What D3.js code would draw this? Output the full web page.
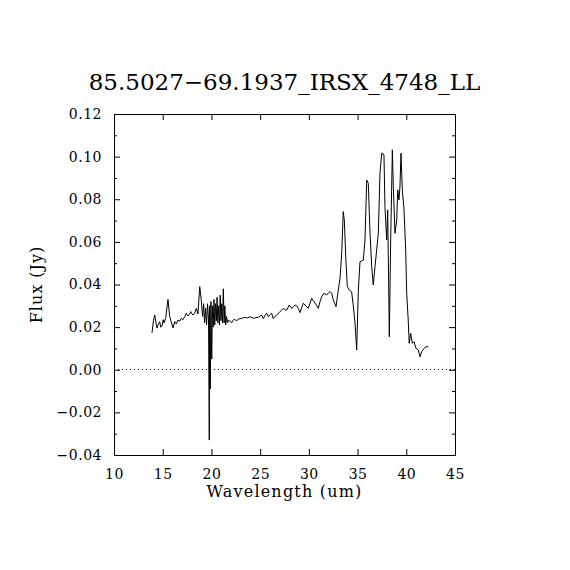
<!DOCTYPE html>
<html lang="en">
<head>
    <meta charset="UTF-8">
    <title>85.5027-69.1937_IRSX_4748_LL</title>
    <script src="https://d3js.org/d3.v7.min.js"></script>
    <style>
        body { margin: 0; background: #fff; }
        svg { display: block; background: #fff; }
        text { font-family: "DejaVu Serif", serif; fill: #000; }
        .tick-label { font-size: 14px; }
    </style>
</head>
<body>
    <svg width="570" height="570"></svg>

    <script>
        // Spectrum (wavelength in um, flux in Jy)
        var wavelength = [
            13.90, 14.05, 14.18, 14.31, 14.42, 14.52, 14.69, 14.80, 14.93, 15.05,
            15.13, 15.30, 15.54, 15.72, 15.88, 16.06, 16.23, 16.40, 16.57, 16.74,
            16.91, 17.08, 17.26, 17.42, 17.60, 17.75, 17.87, 18.00, 18.11, 18.28,
            18.45, 18.62, 18.80, 18.96,
            19.00, 19.10, 19.20, 19.30, 19.40, 19.50, 19.60, 19.70, 19.78, 19.82,
            19.88, 19.95, 20.03, 20.10, 20.18, 20.26, 20.34, 20.42, 20.50, 20.58,
            20.66, 20.74, 20.82, 20.90, 20.98, 21.06, 21.14, 21.22, 21.30, 21.38,
            21.46, 21.55, 21.65,
            21.73, 21.90, 22.08, 22.22, 22.35, 22.59, 22.80, 23.10, 23.45, 23.70,
            23.96, 24.30, 24.55, 24.81, 25.16, 25.32, 25.50, 25.67, 25.84, 26.00,
            26.18, 26.35, 26.50, 26.70, 26.95, 27.21, 27.38, 27.55, 27.72, 27.99,
            28.24, 28.40, 28.58, 28.75, 28.92, 29.09, 29.25, 29.43, 29.70, 29.94,
            30.10, 30.29, 30.53, 30.75, 30.97, 31.15, 31.32, 31.55, 31.83, 32.00,
            32.17, 32.34, 32.51, 32.79, 33.02, 33.20, 33.37, 33.53, 33.64, 33.80,
            33.95, 34.15, 34.39, 34.57, 34.74, 34.91, 35.08, 35.25, 35.42, 35.59,
            35.76, 35.94, 36.10, 36.28, 36.45, 36.61, 36.79, 36.96, 37.13, 37.30,
            37.48, 37.71, 37.81, 37.99, 38.09, 38.26, 38.40, 38.57, 38.67, 38.84,
            39.02, 39.12, 39.25, 39.35, 39.46, 39.59, 39.76, 39.94, 40.04, 40.20,
            40.30, 40.45, 40.62, 40.79, 40.99, 41.23, 41.41, 41.58, 41.82, 42.02,
            42.26
        ];
        var flux = [
            0.0173, 0.0230, 0.0257, 0.0220, 0.0196, 0.0210, 0.0225, 0.0200, 0.0205, 0.0235,
            0.0220, 0.0240, 0.0330, 0.0249, 0.0225, 0.0196, 0.0226, 0.0215, 0.0233, 0.0228,
            0.0241, 0.0235, 0.0249, 0.0265, 0.0252, 0.0260, 0.0273, 0.0262, 0.0257, 0.0265,
            0.0288, 0.0262, 0.0390, 0.0327,
            0.0300, 0.0250, 0.0310, 0.0220, 0.0290, 0.0210, 0.0310, 0.0240, -0.0330, 0.0300,
            -0.0090, 0.0320, 0.0050, 0.0300, 0.0200, 0.0330, 0.0210, 0.0310, 0.0230, 0.0340,
            0.0220, 0.0300, 0.0210, 0.0350, 0.0230, 0.0310, 0.0220, 0.0380, 0.0220, 0.0300,
            0.0210, 0.0250, 0.0220,
            0.0233, 0.0228, 0.0221, 0.0232, 0.0237, 0.0230, 0.0238, 0.0241, 0.0246, 0.0243,
            0.0249, 0.0241, 0.0245, 0.0246, 0.0257, 0.0240, 0.0255, 0.0265, 0.0249, 0.0258,
            0.0265, 0.0240, 0.0250, 0.0257, 0.0268, 0.0280, 0.0288, 0.0282, 0.0280, 0.0304,
            0.0288, 0.0295, 0.0304, 0.0300, 0.0288, 0.0268, 0.0290, 0.0312, 0.0299, 0.0288,
            0.0310, 0.0335, 0.0319, 0.0305, 0.0288, 0.0320, 0.0343, 0.0359, 0.0351, 0.0360,
            0.0367, 0.0359, 0.0327, 0.0296, 0.0374, 0.0429, 0.0546, 0.0742, 0.0703, 0.0515,
            0.0390, 0.0374, 0.0366, 0.0296, 0.0218, 0.0093, 0.0374, 0.0507, 0.0510, 0.0515,
            0.0609, 0.0890, 0.0875, 0.0640, 0.0484, 0.0398, 0.0484, 0.0562, 0.0640, 0.0922,
            0.1016, 0.1008, 0.0765, 0.0609, 0.0750, 0.0155, 0.0609, 0.1032, 0.0859, 0.0640,
            0.0703, 0.0844, 0.0797, 0.0859, 0.1016, 0.0844, 0.0758, 0.0562, 0.0359, 0.0233,
            0.0124, 0.0171, 0.0124, 0.0132, 0.0101, 0.0093, 0.0061, 0.0085, 0.0100, 0.0108,
            0.0108
        ];

        var xTicks = [10, 15, 20, 25, 30, 35, 40, 45];
        var yTicks = [-0.04, -0.02, 0.00, 0.02, 0.04, 0.06, 0.08, 0.10, 0.12];
        var yMinorTicks = [-0.03, -0.01, 0.01, 0.03, 0.05, 0.07, 0.09, 0.11];

        var chartTitle = "85.5027\u221269.1937_IRSX_4748_LL";
        var xTitle = "Wavelength (um)";
        var yTitle = "Flux (Jy)";

        var svg = d3.select("svg"),
            margin = {top: 114, right: 115, bottom: 115, left: 114},
            width = +svg.attr("width") - margin.left - margin.right,
            height = +svg.attr("height") - margin.top - margin.bottom,
            g = svg.append("g").attr("transform", "translate(" + margin.left + "," + margin.top + ")");

        var x = d3.scaleLinear().domain([10, 45]).range([0, width]);
        var y = d3.scaleLinear().domain([-0.04, 0.12]).range([height, 0]);

        var fmt = d3.format(".2f");

        // bottom axis with labels, ticks drawn inward
        g.append("g")
            .attr("transform", "translate(0," + height + ")")
            .call(d3.axisBottom(x).tickValues(xTicks).tickSize(-6).tickPadding(14).tickFormat(d3.format("d")))
            .call(function(a) { a.select(".domain").remove(); });

        // top axis, ticks only
        g.append("g")
            .call(d3.axisTop(x).tickValues(xTicks).tickSize(-6).tickFormat(""))
            .call(function(a) { a.select(".domain").remove(); });

        // left axis
        g.append("g")
            .call(d3.axisLeft(y).tickValues(yTicks).tickSize(-6).tickPadding(12).tickFormat(fmt))
            .call(function(a) { a.select(".domain").remove(); });
        g.append("g")
            .call(d3.axisLeft(y).tickValues(yMinorTicks).tickSize(-3).tickFormat(""))
            .call(function(a) { a.select(".domain").remove(); });

        // right axis
        g.append("g")
            .attr("transform", "translate(" + width + ",0)")
            .call(d3.axisRight(y).tickValues(yTicks).tickSize(-6).tickFormat(""))
            .call(function(a) { a.select(".domain").remove(); });
        g.append("g")
            .attr("transform", "translate(" + width + ",0)")
            .call(d3.axisRight(y).tickValues(yMinorTicks).tickSize(-3).tickFormat(""))
            .call(function(a) { a.select(".domain").remove(); });

        g.selectAll(".tick line").attr("stroke", "#000");
        g.selectAll(".tick text")
            .attr("class", "tick-label")
            .attr("font-size", null)
            .attr("font-family", null)
            .attr("letter-spacing", "0.5px");

        // frame
        g.append("rect")
            .attr("width", width)
            .attr("height", height)
            .attr("fill", "none")
            .attr("stroke", "#000")
            .attr("stroke-width", 1)
            .attr("shape-rendering", "crispEdges");

        // zero line
        g.append("line")
            .attr("x1", 0).attr("x2", width)
            .attr("y1", y(0)).attr("y2", y(0))
            .attr("stroke", "#000")
            .attr("stroke-dasharray", "1,3")
            .attr("shape-rendering", "crispEdges");

        // spectrum
        var line = d3.line()
            .x(function(d, i) { return x(wavelength[i]); })
            .y(function(d) { return y(d); });

        g.append("path")
            .datum(flux)
            .attr("fill", "none")
            .attr("stroke", "#000")
            .attr("stroke-width", 1)
            .attr("d", line);

        // titles
        svg.append("text")
            .attr("x", margin.left + width / 2)
            .attr("y", 90)
            .attr("text-anchor", "middle")
            .attr("font-size", 23)
            .text(chartTitle);

        svg.append("text")
            .attr("x", margin.left + width / 2)
            .attr("y", 497)
            .attr("text-anchor", "middle")
            .attr("font-size", 16)
            .attr("letter-spacing", "1.2px")
            .text(xTitle);

        svg.append("text")
            .attr("transform", "translate(42," + (margin.top + height / 2) + ") rotate(-90)")
            .attr("text-anchor", "middle")
            .attr("font-size", 16)
            .attr("letter-spacing", "1px")
            .text(yTitle);
    </script>
</body>
</html>
